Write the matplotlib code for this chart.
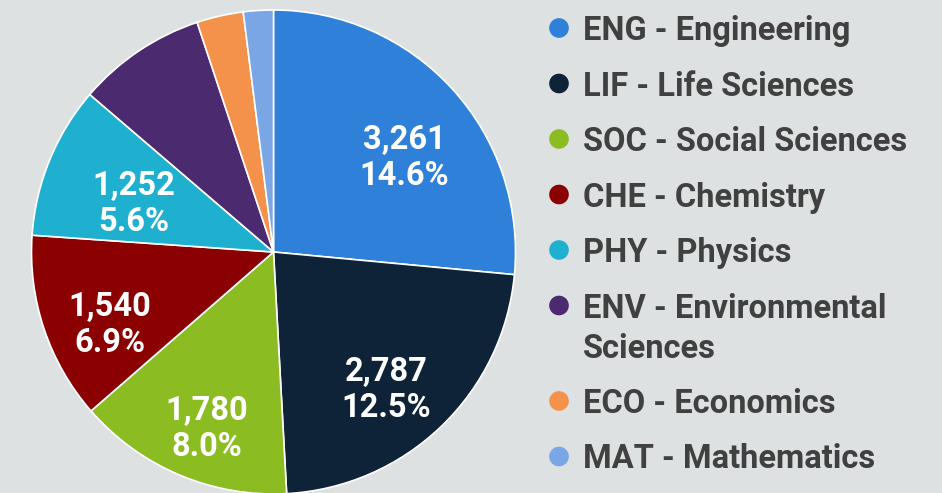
import numpy as np
import matplotlib
matplotlib.use("Agg")
import matplotlib.pyplot as plt
import textwrap

# ---- data ----
codes = ["ENG", "LIF", "SOC", "CHE", "PHY", "ENV", "ECO", "MAT"]
names = ["Engineering", "Life Sciences", "Social Sciences", "Chemistry",
         "Physics", "Environmental Sciences", "Economics", "Mathematics"]
values = [3261, 2787, 1780, 1540, 1252, 1060, 383, 246]
pct_labels = ["14.6%", "12.5%", "8.0%", "6.9%", "5.6%", "", "", ""]

# ---- styles ----
colors = ["#2f80d9", "#0e2238", "#8bbd22", "#8b0000", "#1fb0d0",
          "#4b2a6f", "#f4914a", "#7ba6e6"]
bg = "#dee1e2"
txt_col = "#404040"
label_r = [0.665, 0.735, 0.78, 0.74, 0.61, 0, 0, 0]
label_dang = [-6.5, -4.6, 2.2, 5.4, 3.3, 0, 0, 0]
fs = 23.5

W, H = 942, 493
fig = plt.figure(figsize=(W / 100, H / 100), dpi=100, facecolor=bg)
plt.rcParams['font.family'] = ['Roboto', 'DejaVu Sans']

cx, cy, R = 273.5, 252, 242
ax = fig.add_axes([(cx - R) / W, (H - cy - R) / H, 2 * R / W, 2 * R / H])
ax.set_facecolor(bg)
wedges, _ = ax.pie(values, colors=colors, startangle=90, counterclock=False,
                   radius=1, wedgeprops=dict(edgecolor="white", linewidth=1.2))
ax.set_xlim(-1, 1)
ax.set_ylim(-1, 1)
ax.set_aspect("equal")
ax.axis("off")

line_gap = 36 / R  # in data units
for i, w in enumerate(wedges):
    if not pct_labels[i]:
        continue
    ang = np.deg2rad((w.theta1 + w.theta2) / 2 + label_dang[i])
    x = label_r[i] * np.cos(ang)
    y = label_r[i] * np.sin(ang)
    ax.text(x, y + line_gap / 2, f"{values[i]:,}", ha="center", va="center",
            color="white", fontsize=fs, fontweight="bold")
    ax.text(x, y - line_gap / 2, pct_labels[i], ha="center", va="center",
            color="white", fontsize=fs, fontweight="bold")

# ---- legend ----
lax = fig.add_axes([0, 0, 1, 1], facecolor="none")
lax.set_xlim(0, W)
lax.set_ylim(H, 0)
lax.axis("off")
y0, step, wrap_gap = 28, 55.5, 40
y = y0
for i, (c, n) in enumerate(zip(codes, names)):
    lines = textwrap.wrap(f"{c} - {n}", 22)
    lax.scatter([559], [y], s=200, color=colors[i], edgecolors="none")
    for k, ln in enumerate(lines):
        lax.text(583, y + 12 + k * wrap_gap, ln, ha="left", va="baseline",
                 color=txt_col, fontsize=fs, fontweight="bold")
    y += step + (len(lines) - 1) * wrap_gap

fig.savefig("out.png", dpi=100, facecolor=bg)
